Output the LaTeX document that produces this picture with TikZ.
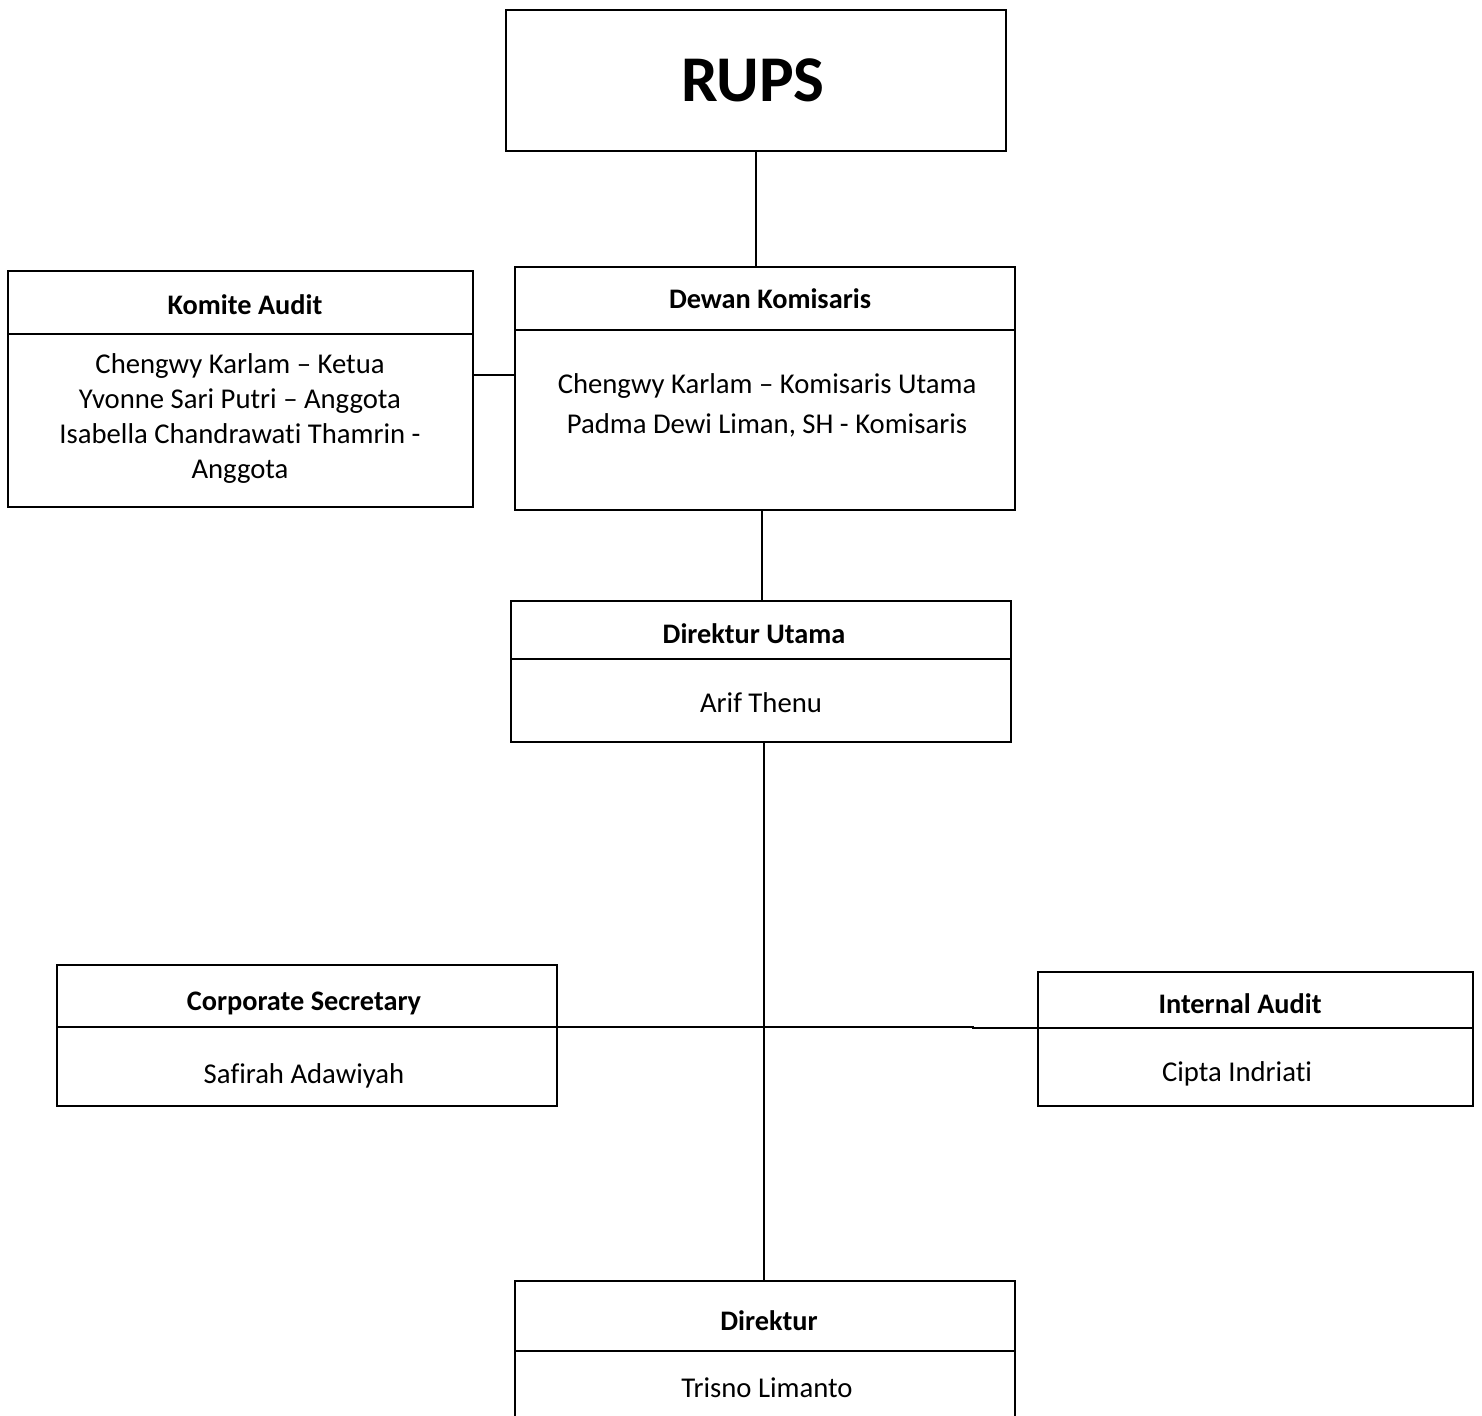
\documentclass[tikz,border=0pt]{standalone}
\usepackage{fontspec}
\setmainfont{Carlito}[Ligatures={NoCommon}]
\begin{document}
\begin{tikzpicture}[x=1bp,y=-1bp,
  orgbox/.style={draw=black,line width=1.8bp,rectangle,inner sep=0pt,outer sep=0pt},
  divline/.style={draw=black,line width=1.8bp},
  link/.style={draw=black,line width=1.8bp},
  head/.style={anchor=base,inner sep=0pt,font=\bfseries\fontsize{28.4}{34}\selectfont},
  bodytxt/.style={anchor=base,inner sep=0pt,align=center,font=\fontsize{28.8}{35}\selectfont},
  bigtxt/.style={anchor=base,inner sep=0pt,font=\bfseries\fontsize{65.5}{72}\selectfont}]
\useasboundingbox[fill=white] (0,0) rectangle (1482,1416);

% boxes
\node[orgbox,minimum width=500bp,minimum height=141bp] (rups) at (756,80.5) {};
\node[orgbox,minimum width=465bp,minimum height=236bp] (ka) at (240.5,389) {};
\node[orgbox,minimum width=500bp,minimum height=243bp] (dk) at (765,388.5) {};
\node[orgbox,minimum width=500bp,minimum height=141bp] (du) at (761,671.5) {};
\node[orgbox,minimum width=500bp,minimum height=141bp] (cs) at (307,1035.5) {};
\node[orgbox,minimum width=435bp,minimum height=134bp] (ia) at (1255.5,1039) {};
\node[orgbox,minimum width=500bp,minimum height=139bp] (dir) at (765,1350.5) {};

% dividers
\coordinate (kadiv) at (0,334);
\coordinate (dkdiv) at (0,330);
\coordinate (dudiv) at (0,659);
\coordinate (csdiv) at (0,1027);
\coordinate (iadiv) at (0,1028);
\coordinate (dirdiv) at (0,1351);
\draw[divline] (ka.west |- kadiv) -- (ka.east |- kadiv);
\draw[divline] (dk.west |- dkdiv) -- (dk.east |- dkdiv);
\draw[divline] (du.west |- dudiv) -- (du.east |- dudiv);
\draw[divline] (cs.west |- csdiv) -- (cs.east |- csdiv);
\draw[divline] (ia.west |- iadiv) -- (ia.east |- iadiv);
\draw[divline] (dir.west |- dirdiv) -- (dir.east |- dirdiv);

% texts
\node[bigtxt] (rupst) at (753,102) {RUPS};
\node[head] (kah) at (245,314) {Komite Audit};
\node[bodytxt] (kab) at (240,478) {Chengwy Karlam – Ketua\\Yvonne Sari Putri – Anggota\\Isabella Chandrawati Thamrin -\\Anggota};
\node[head] (dkh) at (770,308) {Dewan Komisaris};
\node[bodytxt,font=\fontsize{28.8}{40}\selectfont] (dkb) at (767,433) {Chengwy Karlam – Komisaris Utama\\Padma Dewi Liman, SH - Komisaris};
\node[head] (duh) at (754,643) {Direktur Utama};
\node[bodytxt] (dub) at (761,712) {Arif Thenu};
\node[head] (csh) at (304,1010) {Corporate Secretary};
\node[bodytxt] (csb) at (304,1083) {Safirah Adawiyah};
\node[head] (iah) at (1240,1013) {Internal Audit};
\node[bodytxt] (iab) at (1237,1081) {Cipta Indriati};
\node[head] (dirh) at (769,1330) {Direktur};
\node[bodytxt] (dirb) at (767,1397) {Trisno Limanto};

% connectors
\coordinate (kalink) at (0,375);
\coordinate (jog) at (973,0);
\draw[link] (rups.south) -- (rups.south |- dk.north);
\draw[link] (ka.east |- kalink) -- (dk.west |- kalink);
\coordinate (dkx) at (762,0);
\draw[link] (dkx |- dk.south) -- (dkx |- du.north);
\coordinate (mainx) at (764,0);
\draw[link] (mainx |- du.south) -- (mainx |- dir.north);
\draw[link] (cs.east |- csdiv) -- (jog |- csdiv) -- (jog |- iadiv) -- (ia.west |- iadiv);
\end{tikzpicture}
\end{document}
